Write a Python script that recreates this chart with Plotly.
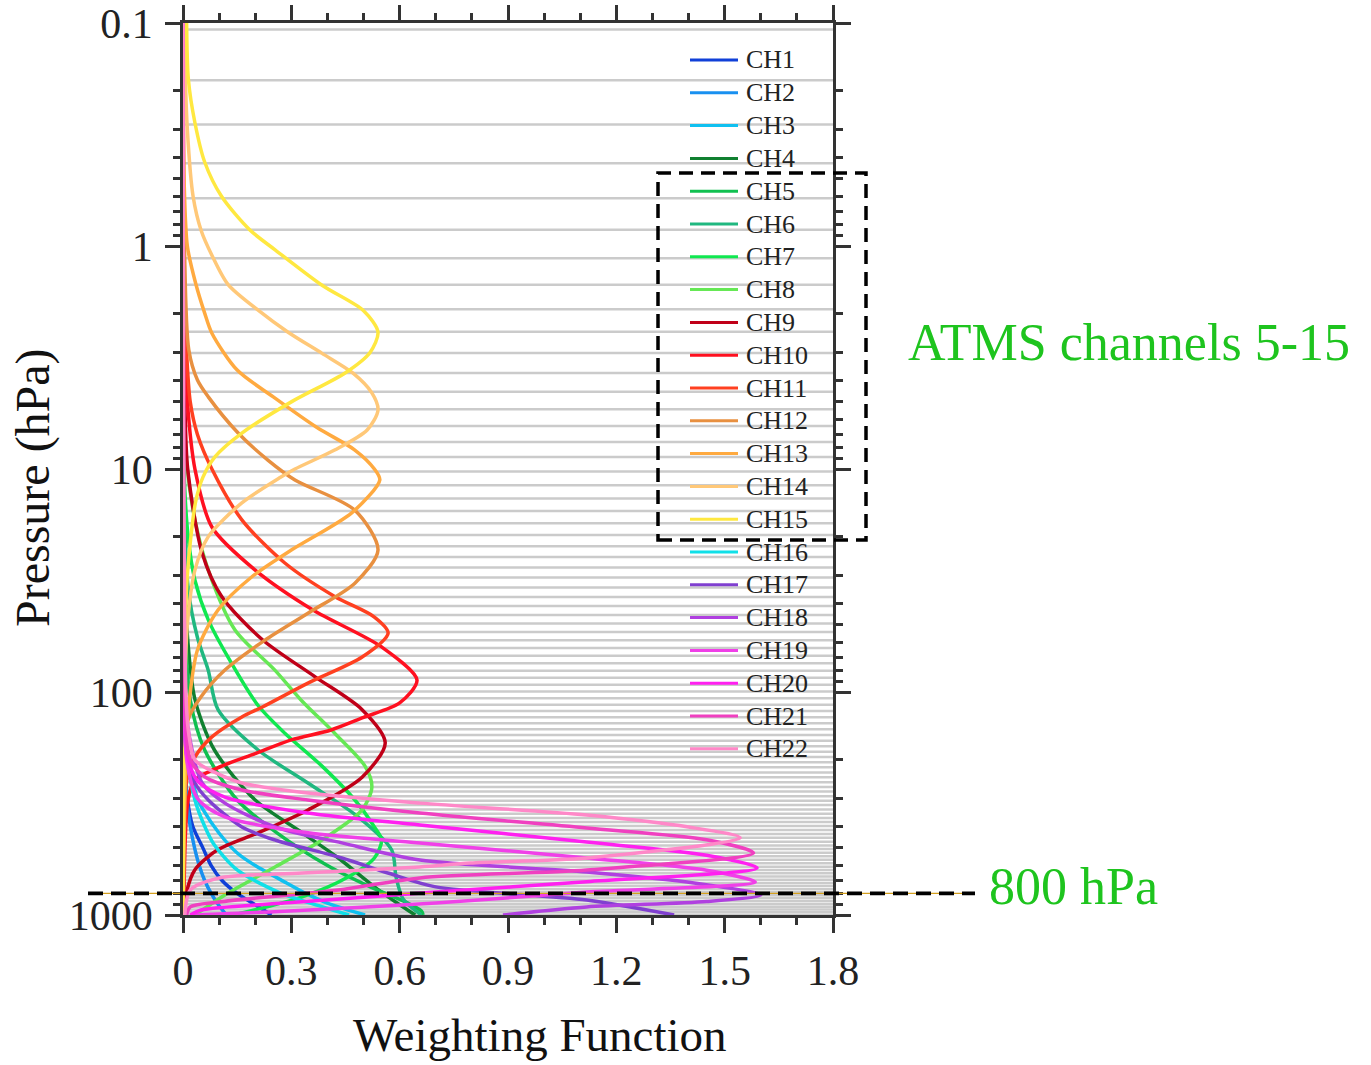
import plotly.graph_objects as go

# ---------------- data ----------------
# RTTOV 101 pressure levels (hPa); grey lines are drawn at layer mid-pressures
levels_101 = [0.005, 0.0161, 0.0384, 0.0769, 0.137, 0.2244, 0.3454, 0.5064, 0.714, 0.9753,
              1.2972, 1.6872, 2.1526, 2.7009, 3.3398, 4.077, 4.9204, 5.8776, 6.9567, 8.1655,
              9.5119, 11.0038, 12.6492, 14.4559, 16.4318, 18.5847, 20.9224, 23.4526, 26.1829, 29.121,
              32.2744, 35.6505, 39.2566, 43.1001, 47.1882, 51.5278, 56.126, 60.9895, 66.1253, 71.5398,
              77.2396, 83.231, 89.5204, 96.1138, 103.017, 110.237, 117.777, 125.646, 133.846, 142.385,
              151.266, 160.496, 170.078, 180.018, 190.32, 200.989, 212.028, 223.441, 235.234, 247.408,
              259.969, 272.919, 286.262, 300.0, 314.137, 328.675, 343.618, 358.966, 374.724, 390.893,
              407.474, 424.47, 441.882, 459.712, 477.961, 496.63, 515.72, 535.232, 555.167, 575.525,
              596.306, 617.511, 639.14, 661.192, 683.667, 706.565, 729.886, 753.628, 777.79, 802.371,
              827.371, 852.788, 878.62, 904.865, 931.524, 958.591, 986.067, 1013.95, 1042.23, 1070.92, 1100.0]

x_ticks = [0, 0.3, 0.6, 0.9, 1.2, 1.5, 1.8]
x_tick_text = ["0", "0.3", "0.6", "0.9", "1.2", "1.5", "1.8"]
y_ticks = [0.1, 1, 10, 100, 1000]
y_tick_text = ["0.1", "1", "10", "100", "1000"]

channel_names = ["CH%d" % i for i in range(1, 23)]
channel_colors = ["#1040D8", "#1890F0", "#10C0F0", "#108030", "#10C050", "#20B880",
                  "#10E850", "#66E855", "#C00018", "#FF1020", "#FF4020", "#E89040",
                  "#FFAA40", "#FFC878", "#FFE840", "#10E0E8", "#8040D0", "#B040E0",
                  "#F040E8", "#FF20F0", "#F040C0", "#FF88C8"]

ch01_p = [0.1, 100, 200, 300, 400, 500, 600, 700, 800, 900, 1000]
ch01_w = [0, 0.002, 0.005, 0.012, 0.027, 0.055, 0.078, 0.108, 0.15, 0.2, 0.245]
ch02_p = [0.1, 100, 300, 400, 500, 600, 700, 800, 900, 1000]
ch02_w = [0, 0.002, 0.01, 0.02, 0.032, 0.045, 0.06, 0.078, 0.098, 0.12]
ch03_p = [0.1, 100, 200, 300, 338, 430, 527, 600, 720, 800, 884, 1000]
ch03_w = [0, 0.003, 0.015, 0.04, 0.056, 0.1, 0.15, 0.2, 0.288, 0.34, 0.4, 0.504]
ch04_p = [0.1, 20, 50, 108, 182, 305, 428, 555, 748, 900, 1000]
ch04_w = [0, 0.002, 0.01, 0.033, 0.087, 0.2, 0.33, 0.43, 0.53, 0.6, 0.643]
ch05_p = [0.1, 20, 50, 108, 182, 305, 428, 600, 750, 880, 960, 1000]
ch05_w = [0, 0.002, 0.006, 0.02, 0.06, 0.15, 0.26, 0.4, 0.52, 0.62, 0.66, 0.665]
ch06_p = [0.1, 10, 34, 57, 80, 120, 182, 256, 363, 511, 676, 850, 1000]
ch06_w = [0, 0.002, 0.014, 0.04, 0.07, 0.097, 0.208, 0.346, 0.485, 0.578, 0.59, 0.61, 0.66]
ch07_p = [0.1, 10, 20, 31.5, 47.5, 70, 115, 153, 215, 305, 403, 461, 555, 676, 830, 1000]
ch07_w = [0, 0.003, 0.014, 0.033, 0.07, 0.125, 0.208, 0.282, 0.385, 0.476, 0.53, 0.55, 0.53, 0.457, 0.33, 0.14]
ch08_p = [0.1, 5, 10, 16.9, 28.4, 52.7, 80, 110, 153, 215, 267, 338, 461, 609, 797, 1000]
ch08_w = [0, 0.002, 0.012, 0.033, 0.07, 0.144, 0.255, 0.33, 0.42, 0.504, 0.523, 0.496, 0.385, 0.255, 0.125, 0.033]
ch09_p = [0.1, 1, 5, 10, 23.8, 37.3, 58.3, 85.5, 120, 169, 241, 338, 428, 509, 626, 787, 1000]
ch09_w = [0, 0.001, 0.005, 0.013, 0.053, 0.107, 0.22, 0.366, 0.496, 0.56, 0.496, 0.346, 0.208, 0.097, 0.033, 0.01, 0.003]
ch10_p = [0.1, 1, 3, 5, 10, 18.2, 28.4, 42.9, 62.8, 88.4, 112, 130, 148, 164, 189, 215, 248, 305, 1000]
ch10_w = [0, 0.002, 0.006, 0.012, 0.033, 0.08, 0.2, 0.36, 0.55, 0.648, 0.6, 0.5, 0.41, 0.3, 0.2, 0.107, 0.033, 0.014, 0.002]
ch11_p = [0.1, 1, 3, 5, 7, 10, 16.9, 26.4, 37.3, 46.1, 54.4, 69.7, 91.2, 116.7, 129.4, 159, 196, 250, 1000]
ch11_w = [0, 0.002, 0.01, 0.02, 0.04, 0.08, 0.163, 0.282, 0.42, 0.53, 0.568, 0.496, 0.346, 0.22, 0.163, 0.08, 0.033, 0.01, 0.001]
ch12_p = [0.1, 1, 2.92, 3.99, 4.75, 6.88, 9.12, 11.2, 15.3, 23.1, 32.5, 44.3, 58.5, 79.7, 105, 133, 200, 1000]
ch12_w = [0, 0.004, 0.016, 0.04, 0.07, 0.152, 0.235, 0.31, 0.476, 0.54, 0.476, 0.346, 0.227, 0.116, 0.05, 0.014, 0.005, 0]
ch13_p = [0.1, 0.5, 1.0, 1.47, 2.0, 2.46, 3.6, 4.75, 6.5, 8.2, 10, 11.2, 15.7, 23.1, 30.5, 42.9, 64.8, 120, 200, 1000]
ch13_w = [0, 0.003, 0.012, 0.035, 0.06, 0.08, 0.15, 0.25, 0.37, 0.475, 0.53, 0.545, 0.468, 0.3, 0.19, 0.097, 0.04, 0.015, 0.008, 0]
ch14_p = [0.1, 0.3, 0.6, 0.85, 1.1, 1.49, 1.94, 2.43, 3.03, 3.71, 4.56, 5.44, 6.68, 8.22, 10, 10.9, 14.2, 20.1, 28.4, 50, 100, 1000]
ch14_w = [0.002, 0.012, 0.028, 0.05, 0.08, 0.125, 0.208, 0.29, 0.385, 0.47, 0.523, 0.54, 0.51, 0.42, 0.31, 0.27, 0.163, 0.07, 0.033, 0.012, 0.005, 0]
ch15_p = [0.1, 0.18, 0.28, 0.42, 0.6, 0.85, 1.04, 1.5, 1.95, 2.43, 3.0, 3.7, 5.0, 6.9, 8.8, 10.9, 14, 20, 30, 50, 100, 300, 1000]
ch15_w = [0.01, 0.015, 0.033, 0.06, 0.107, 0.186, 0.255, 0.385, 0.5, 0.54, 0.518, 0.45, 0.3, 0.163, 0.089, 0.055, 0.035, 0.022, 0.012, 0.006, 0.003, 0.001, 0]
ch16_p = [0.1, 100, 200, 305, 400, 480, 628, 797, 912, 1000]
ch16_w = [0, 0.002, 0.012, 0.033, 0.06, 0.085, 0.15, 0.27, 0.38, 0.46]
ch17_p = [0.1, 100, 150, 200, 256, 305, 403, 461, 555, 650, 748, 856, 1000]
ch17_w = [0, 0.002, 0.004, 0.012, 0.033, 0.07, 0.163, 0.255, 0.44, 0.57, 0.7, 1.118, 1.36]
ch18_p = [0.1, 100, 182, 256, 315, 403, 475, 567, 641, 720, 813, 870, 920, 1000]
ch18_w = [0, 0.003, 0.025, 0.053, 0.116, 0.255, 0.44, 0.656, 1.118, 1.42, 1.6, 1.45, 1.118, 0.886]
ch19_p = [0.1, 100, 200, 300, 363, 428, 475, 555, 630, 711, 789, 883, 969, 1000]
ch19_w = [0, 0.003, 0.01, 0.04, 0.116, 0.346, 0.656, 1.118, 1.45, 1.585, 1.118, 0.7, 0.24, 0.03]
ch20_p = [0.1, 100, 200, 250, 296, 349, 395, 471, 540, 615, 709, 789, 880, 950, 1000]
ch20_w = [0, 0.004, 0.015, 0.04, 0.116, 0.346, 0.656, 1.118, 1.45, 1.59, 1.118, 0.7, 0.3, 0.05, 0.02]
ch21_p = [0.1, 100, 200, 240, 275, 305, 349, 407, 460, 527, 628, 682, 773, 874, 920, 1000]
ch21_w = [0, 0.005, 0.02, 0.06, 0.163, 0.346, 0.656, 1.118, 1.45, 1.58, 1.118, 0.656, 0.43, 0.1, 0.02, 0.01]
ch22_p = [0.1, 100, 150, 202, 230, 256, 284, 315, 356, 403, 451, 555, 585, 609, 648, 682, 773, 1000]
ch22_w = [0, 0.008, 0.015, 0.033, 0.09, 0.163, 0.346, 0.656, 1.118, 1.4, 1.543, 1.118, 0.795, 0.656, 0.33, 0.1, 0.02, 0.005]

channel_p = [ch01_p, ch02_p, ch03_p, ch04_p, ch05_p, ch06_p, ch07_p, ch08_p, ch09_p, ch10_p, ch11_p,
             ch12_p, ch13_p, ch14_p, ch15_p, ch16_p, ch17_p, ch18_p, ch19_p, ch20_p, ch21_p, ch22_p]
channel_w = [ch01_w, ch02_w, ch03_w, ch04_w, ch05_w, ch06_w, ch07_w, ch08_w, ch09_w, ch10_w, ch11_w,
             ch12_w, ch13_w, ch14_w, ch15_w, ch16_w, ch17_w, ch18_w, ch19_w, ch20_w, ch21_w, ch22_w]

# ---------------- figure ----------------
FONT = "Liberation Serif, Times New Roman, serif"
GREEN = "#1EC41E"
W, H = 1371, 1065
ML, MR, MT, MB = 183, 538, 23, 150
PW, PH = W - ML - MR, H - MT - MB


def px_x(px):
    return (px - ML) / PW


def px_y(py):
    return (H - MB - py) / PH


layer_p = [(a + b) / 2 for a, b in zip(levels_101[:-1], levels_101[1:])]
layer_p = [p for p in layer_p if 0.1 <= p <= 1000.5]

gx, gy = [], []
for p in layer_p:
    gx += [0, 1.8, None]
    gy += [p, p, None]

fig = go.Figure()
fig.add_trace(go.Scatter(x=gx, y=gy, mode="lines", line=dict(color="#CBCBCB", width=2.5),
                         showlegend=False, hoverinfo="skip"))

for name, col, pp, ww in zip(channel_names, channel_colors, channel_p, channel_w):
    fig.add_trace(go.Scatter(x=ww, y=pp, mode="lines", name=name, showlegend=False,
                             line=dict(color=col, width=3.5, shape="spline", smoothing=0.8)))

minor_y = [m * 10 ** k for k in range(-1, 3) for m in range(2, 10)]
minor_x = [i / 10 for i in range(0, 19) if i % 3 != 0]

axis_common = dict(showline=True, linecolor="#333333", linewidth=2.5, mirror="ticks",
                   ticks="outside", ticklen=15, tickwidth=2.5, tickcolor="#333333",
                   showgrid=False, zeroline=False, automargin=False,
                   tickfont=dict(family=FONT, size=42, color="#222222"))

fig.update_xaxes(range=[0, 1.8], tickvals=x_ticks, ticktext=x_tick_text,
                 minor=dict(tickvals=minor_x, ticks="outside", ticklen=7, tickwidth=2.5, tickcolor="#333333"),
                 ticklabelstandoff=2, **axis_common)
fig.update_yaxes(type="log", range=[3, -1], tickvals=y_ticks, ticktext=y_tick_text,
                 minor=dict(tickvals=minor_y, ticks="outside", ticklen=7, tickwidth=2.5, tickcolor="#333333"),
                 ticklabelstandoff=4, **axis_common)

shapes = [
    dict(type="line", xref="paper", yref="y", x0=px_x(88), x1=px_x(975), y0=800, y1=800,
         line=dict(color="#D4A020", width=1.2)),
    dict(type="line", xref="paper", yref="y", x0=px_x(88), x1=px_x(975), y0=800, y1=800,
         line=dict(color="black", width=3.8, dash="15px,8px")),
    dict(type="rect", xref="paper", yref="paper", x0=px_x(658), x1=px_x(866), y0=px_y(540), y1=px_y(173),
         line=dict(color="black", width=3.5, dash="14px,8px")),
]

annotations = [
    dict(text="ATMS channels 5-15", xref="paper", yref="paper", x=px_x(906), y=px_y(342),
         xanchor="left", yanchor="middle", showarrow=False,
         font=dict(family=FONT, size=52, color=GREEN)),
    dict(text="800 hPa", xref="paper", yref="paper", x=px_x(987), y=px_y(886),
         xanchor="left", yanchor="middle", showarrow=False,
         font=dict(family=FONT, size=52, color=GREEN)),
    dict(text="Weighting Function", xref="paper", yref="paper", x=px_x(540), y=px_y(1035),
         xanchor="center", yanchor="middle", showarrow=False,
         font=dict(family=FONT, size=47, color="#111111")),
    dict(text="Pressure (hPa)", xref="paper", yref="paper", x=px_x(33), y=px_y(488),
         xanchor="center", yanchor="middle", showarrow=False, textangle=-90,
         font=dict(family=FONT, size=48, color="#111111")),
]

# legend drawn as line samples + labels (rows 32.8 px apart)
for i, (name, col) in enumerate(zip(channel_names, channel_colors)):
    yy = px_y(60 + i * 32.8)
    shapes.append(dict(type="line", xref="paper", yref="paper", x0=px_x(690), x1=px_x(738),
                       y0=yy, y1=yy, line=dict(color=col, width=3)))
    annotations.append(dict(text=name, xref="paper", yref="paper", x=px_x(744), y=yy,
                            xanchor="left", yanchor="middle", showarrow=False,
                            font=dict(family=FONT, size=26, color="#222222")))

fig.update_layout(
    width=W, height=H,
    margin=dict(l=ML, r=MR, t=MT, b=MB),
    paper_bgcolor="white", plot_bgcolor="white",
    showlegend=False,
    shapes=shapes, annotations=annotations,
)

fig.write_html("out.html")
